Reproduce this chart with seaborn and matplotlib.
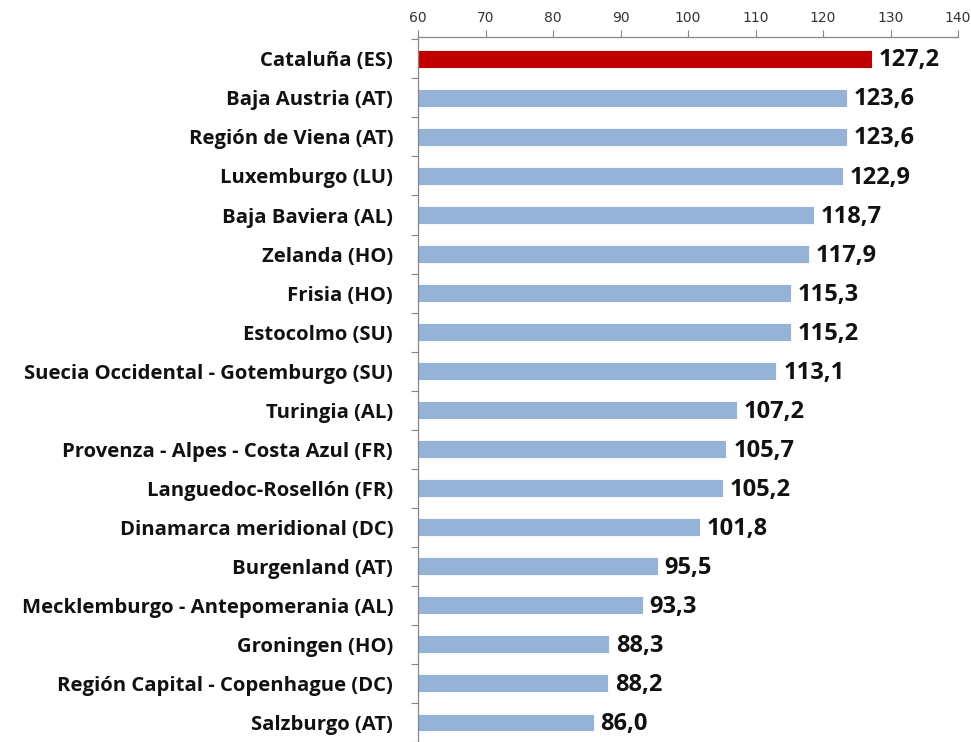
import matplotlib
matplotlib.use("Agg")
import matplotlib.pyplot as plt
import seaborn as sns
import pandas as pd
import numpy as np

regions = ["Cataluña (ES)", "Baja Austria (AT)", "Región de Viena (AT)", "Luxemburgo (LU)",
           "Baja Baviera (AL)", "Zelanda (HO)", "Frisia (HO)", "Estocolmo (SU)",
           "Suecia Occidental - Gotemburgo (SU)", "Turingia (AL)",
           "Provenza - Alpes - Costa Azul (FR)", "Languedoc-Rosellón (FR)",
           "Dinamarca meridional (DC)", "Burgenland (AT)",
           "Mecklemburgo - Antepomerania (AL)", "Groningen (HO)",
           "Región Capital - Copenhague (DC)", "Salzburgo (AT)"]
values = [127.2, 123.6, 123.6, 122.9, 118.7, 117.9, 115.3, 115.2, 113.1, 107.2,
          105.7, 105.2, 101.8, 95.5, 93.3, 88.3, 88.2, 86.0]
value_labels = ["127,2", "123,6", "123,6", "122,9", "118,7", "117,9", "115,3", "115,2",
                "113,1", "107,2", "105,7", "105,2", "101,8", "95,5", "93,3", "88,3",
                "88,2", "86,0"]
x_ticks = [60, 70, 80, 90, 100, 110, 120, 130, 140]

sns.set_theme(style="white")
plt.rcParams['font.family'] = ['Open Sans', 'DejaVu Sans']

df = pd.DataFrame({"region": regions, "value": values})
colors = ["#C00000"] + ["#95B3D7"] * (len(regions) - 1)

fig = plt.figure(figsize=(9.71, 7.42), dpi=100)
W, H = 971, 742
left, right, top, bottom = 418, 958, 37, 742
ax = fig.add_axes([left / W, 1 - bottom / H, (right - left) / W, (bottom - top) / H])

sns.barplot(data=df, y="region", x="value", hue="region", palette=colors, saturation=1,
            legend=False, orient="h", width=0.46, ax=ax, edgecolor="white", linewidth=0.6)

ax.set_xlim(60, 140)
ax.set_ylim(17.38, -0.56)
ax.set_xticks(x_ticks)
ax.xaxis.tick_top()
ax.xaxis.set_label_position("top")
ax.set_xlabel("")
ax.set_ylabel("")
ax.tick_params(axis="x", which="both", direction="out", length=5, width=0.8,
               color="#868686", labelsize=10, labelcolor="#333333", pad=4, top=True, bottom=False)
for lab in ax.get_xticklabels():
    lab.set_fontfamily("DejaVu Sans")

ax.set_yticks(range(len(regions)))
ax.set_yticklabels(regions, fontsize=14.6, fontweight="bold", color="#111111")
ax.set_yticks(np.arange(-0.5, len(regions), 1.0), minor=True)
ax.tick_params(axis="y", which="major", length=0, pad=18)
ax.tick_params(axis="y", which="minor", direction="out", length=5, width=0.8, color="#868686", left=True)

for s in ["right", "bottom"]:
    ax.spines[s].set_visible(False)
for s in ["left", "top"]:
    ax.spines[s].set_visible(True)
    ax.spines[s].set_color("#868686")
    ax.spines[s].set_linewidth(0.9)

for i, (v, t) in enumerate(zip(values, value_labels)):
    ax.text(v + 1.0, i + 0.04, t, va="center", ha="left", fontsize=17, fontweight="bold",
            color="#111111")

fig.savefig("out.png", dpi=100)
